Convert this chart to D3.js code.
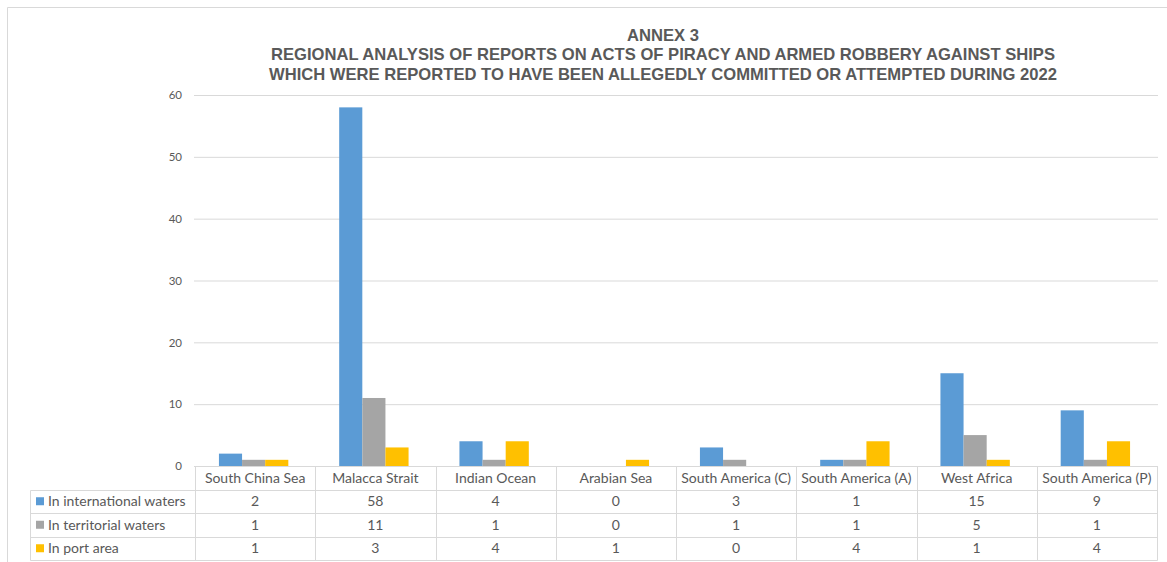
<!DOCTYPE html>
<html>
<head>
<meta charset="utf-8">
<script src="https://cdn.jsdelivr.net/npm/d3@7"></script>
<style>
  html, body { margin: 0; padding: 0; background: #fff; }
  svg { display: block; }
</style>
</head>
<body>
<svg id="chart" width="1167" height="562"></svg>
<script>
// Regions and reported incidents per location type, 2022
const regions = ["South China Sea", "Malacca Strait", "Indian Ocean", "Arabian Sea",
                 "South America (C)", "South America (A)", "West Africa", "South America (P)"];
const seriesNames = ["In international waters", "In territorial waters", "In port area"];
const internationalWaters = [2, 58, 4, 0, 3, 1, 15, 9];
const territorialWaters   = [1, 11, 1, 0, 1, 1, 5, 1];
const portArea            = [1, 3, 4, 1, 0, 4, 1, 4];
const yTicks = [0, 10, 20, 30, 40, 50, 60];
const titleLines = [
  "ANNEX 3",
  "REGIONAL ANALYSIS OF REPORTS ON ACTS OF PIRACY AND ARMED ROBBERY AGAINST SHIPS",
  "WHICH WERE REPORTED TO HAVE BEEN ALLEGEDLY COMMITTED OR ATTEMPTED DURING 2022"
];

const seriesValues = [internationalWaters, territorialWaters, portArea];
const colors = ["#5B9BD5", "#A5A5A5", "#FFC000"];
const textColor = "#595959";
const lineColor = "#D9D9D9";
const tableFont = "Lato, 'Open Sans', sans-serif";

const svg = d3.select("#chart");

// outer frame
svg.append("path")
  .attr("d", "M7.5,562 V7.5 H1167")
  .attr("fill", "none").attr("stroke", lineColor).attr("stroke-width", 1);

// title
const title = svg.append("text")
  .attr("text-anchor", "middle")
  .attr("font-family", "'Liberation Sans', Arial, sans-serif")
  .attr("font-weight", "bold")
  .attr("font-size", 16.6)
  .attr("fill", textColor);
titleLines.forEach((t, i) => {
  title.append("tspan").attr("x", 663).attr("y", 40.5 + i * 19.5).text(t);
});

// scales
const plotLeft = 195, plotRight = 1157;
const x0 = d3.scaleBand().domain(regions).range([plotLeft, plotRight]).paddingInner(0).paddingOuter(0);
const x1 = d3.scaleBand().domain(d3.range(3)).range([0, x0.bandwidth()]).paddingInner(0).paddingOuter(1.1);
const y = d3.scaleLinear().domain([0, 60]).range([466, 95]);

// gridlines and y labels
const yAxis = d3.axisLeft(y).tickValues(yTicks).tickSize(-(plotRight - plotLeft + 2)).tickPadding(12);
const gy = svg.append("g").attr("transform", `translate(${plotLeft - 1},0)`).call(yAxis);
gy.select(".domain").remove();
gy.selectAll(".tick line").attr("stroke", lineColor).attr("stroke-width", 1);
gy.selectAll(".tick text")
  .attr("fill", textColor)
  .attr("font-family", tableFont)
  .attr("font-size", 11.5);

// bars
const groups = svg.append("g").selectAll("g")
  .data(regions)
  .join("g")
  .attr("transform", d => `translate(${x0(d)},0)`);
groups.selectAll("rect")
  .data((d, i) => seriesValues.map((s, k) => ({ k, v: s[i] })))
  .join("rect")
  .attr("x", d => x1(d.k) - 1.5)
  .attr("width", x1.bandwidth())
  .attr("y", d => y(d.v))
  .attr("height", d => y(0) - y(d.v))
  .attr("fill", d => colors[d.k]);

// data table below the plot
const rowTop = 466, rowH = 23.5, legendLeft = 30.5;
const table = svg.append("g").attr("font-family", tableFont).attr("font-size", 14).attr("fill", textColor);

function line(x1p, y1p, x2p, y2p) {
  table.append("line").attr("x1", x1p).attr("y1", y1p).attr("x2", x2p).attr("y2", y2p)
    .attr("stroke", lineColor).attr("stroke-width", 1);
}
// horizontal rules
for (let r = 1; r <= 4; r++) {
  const yy = Math.round(rowTop + r * rowH) + 0.5;
  line(legendLeft, yy, plotRight + 0.5, yy);
}
// verticals between categories
regions.forEach(d => {
  const xx = Math.round(x0(d)) + 0.5;
  line(xx, rowTop, xx, Math.round(rowTop + 4 * rowH) + 0.5);
});
line(plotRight + 0.5, rowTop, plotRight + 0.5, Math.round(rowTop + 4 * rowH) + 0.5);
line(legendLeft, Math.round(rowTop + rowH) + 0.5, legendLeft, Math.round(rowTop + 4 * rowH) + 0.5);

// category header row
table.selectAll("text.cat")
  .data(regions)
  .join("text")
  .attr("class", "cat")
  .attr("x", d => x0(d) + x0.bandwidth() / 2)
  .attr("y", rowTop + rowH / 2)
  .attr("dy", "0.36em")
  .attr("text-anchor", "middle")
  .text(d => d);

// value rows with legend keys
seriesValues.forEach((vals, k) => {
  const cy = rowTop + (k + 1.5) * rowH;
  table.append("rect")
    .attr("x", 36).attr("y", cy - 4).attr("width", 8).attr("height", 8)
    .attr("fill", colors[k]);
  table.append("text")
    .attr("x", 48).attr("y", cy).attr("dy", "0.36em")
    .text(seriesNames[k]);
  table.selectAll(`text.v${k}`)
    .data(vals)
    .join("text")
    .attr("class", `v${k}`)
    .attr("x", (d, i) => x0(regions[i]) + x0.bandwidth() / 2)
    .attr("y", cy)
    .attr("dy", "0.36em")
    .attr("text-anchor", "middle")
    .text(d => d);
});
</script>
</body>
</html>
